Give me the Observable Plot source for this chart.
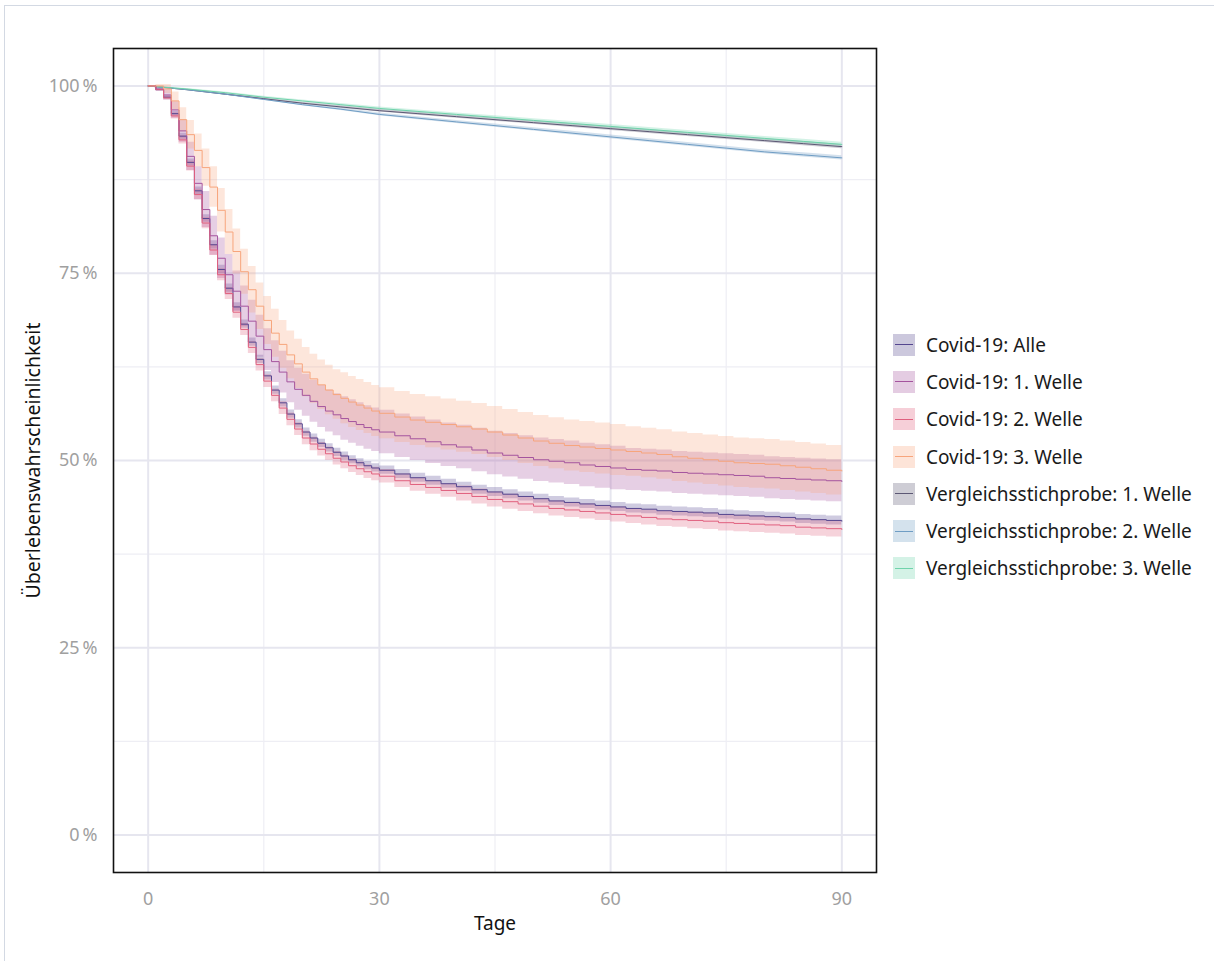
<!DOCTYPE html>
<html><head><meta charset="utf-8">
<script src="https://cdn.jsdelivr.net/npm/d3@7"></script>
<script src="https://cdn.jsdelivr.net/npm/@observablehq/plot@0.6"></script>
<style>
html,body{margin:0;padding:0;background:#fff;}
body{width:1214px;height:961px;position:relative;overflow:hidden;font-family:"Noto Sans",sans-serif;}
#frame{position:absolute;left:4px;top:5px;right:-2px;bottom:-2px;border-top:1.5px solid #d3d9e3;border-left:1.5px solid #d3d9e3;pointer-events:none;}
#chart{position:absolute;left:0;top:0;}
#legend{position:absolute;left:893px;top:326px;}
.row{display:flex;align-items:center;height:37.3px;}
.key{width:22px;height:22px;position:relative;margin-right:11px;}
.key i{position:absolute;left:2px;right:2px;top:10.5px;height:1px;}
.row span{font-size:19px;color:#1a1a1a;white-space:nowrap;}
</style></head><body>
<div id="chart"></div>
<div id="legend"></div>
<div id="frame"></div>
<script>
// ---- data ----
const seriesNames = ["Covid-19: Alle","Covid-19: 1. Welle","Covid-19: 2. Welle","Covid-19: 3. Welle",
  "Vergleichsstichprobe: 1. Welle","Vergleichsstichprobe: 2. Welle","Vergleichsstichprobe: 3. Welle"];
const seriesColors = ["#54468f","#a4549e","#e0607e","#f7a57c","#5c5874","#6f9dc4","#6fd3ab"];

const days = [0,1,2,3,4,5,6,7,8,9,10,11,12,13,14,15,16,17,18,19,20,21,22,23,24,25,26,27,28,29,30,
  32,34,36,38,40,42,44,46,48,50,52,54,56,58,60,62,64,66,68,70,72,74,76,78,80,82,84,86,88,90];

const alle = [100,99.5,98.5,96.3,93.3,89.8,86.0,82.3,78.8,75.5,73.0,70.5,68.2,65.8,63.5,61.3,59.4,57.7,56.2,54.9,53.8,53.0,52.3,51.7,51.1,50.6,50.1,49.7,49.3,49.0,48.7,
  48.2,47.7,47.3,46.9,46.5,46.1,45.8,45.5,45.2,44.9,44.6,44.4,44.2,44.0,43.8,43.6,43.5,43.3,43.2,43.1,43.0,42.8,42.7,42.6,42.5,42.4,42.2,42.1,42.0,41.9];
const alleHw = [0,0.1,0.2,0.3,0.4,0.45,0.5,0.5,0.55,0.55,0.55,0.55,0.55,0.55,0.55,0.55,0.55,0.55,0.55,0.55,0.55,0.55,0.55,0.55,0.55,0.55,0.55,0.55,0.55,0.55,0.55,
  0.6,0.6,0.6,0.6,0.6,0.6,0.6,0.6,0.6,0.6,0.6,0.6,0.6,0.6,0.6,0.6,0.6,0.6,0.6,0.6,0.6,0.6,0.6,0.6,0.6,0.6,0.6,0.6,0.6,0.6];

const welle1 = [100,99.6,98.8,96.8,94.0,90.6,87.0,83.5,80.0,77.0,74.8,72.6,70.6,68.6,66.6,64.8,63.2,61.8,60.5,59.5,58.7,57.9,57.2,56.6,56.1,55.6,55.2,54.8,54.4,54.1,53.8,
  53.3,52.9,52.5,52.1,51.8,51.4,51.0,50.7,50.4,50.1,49.9,49.7,49.4,49.2,49.0,48.8,48.7,48.6,48.4,48.3,48.2,48.1,48.0,47.9,47.7,47.6,47.5,47.4,47.3,47.2];
const welle1Hw = [0,0.3,0.7,1.1,1.5,1.9,2.2,2.4,2.6,2.7,2.7,2.7,2.7,2.8,2.8,2.8,2.8,2.8,2.8,2.8,2.8,2.8,2.8,2.8,2.8,2.9,2.9,2.9,2.9,2.9,2.9,
  2.9,2.9,2.9,2.9,2.9,2.9,2.9,2.9,2.9,2.9,2.9,2.9,2.9,2.9,2.9,2.8,2.8,2.8,2.8,2.8,2.8,2.8,2.8,2.8,2.8,2.8,2.8,2.8,2.8,2.8];

const welle2 = [100,99.5,98.4,96.0,92.8,89.3,85.5,81.7,78.1,74.8,72.3,69.8,67.5,65.1,62.8,60.6,58.7,57.0,55.5,54.2,53.0,52.2,51.5,50.9,50.3,49.8,49.3,48.9,48.5,48.2,47.9,
  47.3,46.8,46.4,46.0,45.6,45.2,44.8,44.5,44.2,43.9,43.6,43.4,43.2,43.0,42.8,42.6,42.4,42.2,42.1,42.0,41.9,41.7,41.6,41.5,41.4,41.3,41.1,41.0,40.9,40.8];
const welle2Hw = [0,0.1,0.25,0.4,0.55,0.65,0.7,0.75,0.75,0.8,0.8,0.8,0.8,0.8,0.85,0.85,0.85,0.85,0.85,0.85,0.9,0.9,0.9,0.9,0.9,0.9,0.9,0.9,0.9,0.9,0.9,
  0.9,0.9,0.9,0.9,1.0,1.0,1.0,1.0,1.0,1.0,1.0,1.0,1.0,1.0,1.0,1.0,1.0,1.0,1.0,1.1,1.1,1.1,1.1,1.1,1.1,1.1,1.1,1.1,1.1,1.1];

const welle3 = [100,100,99.6,98.0,95.5,93.5,91.4,89.1,86.5,83.4,80.5,77.9,75.2,72.8,70.6,68.7,67.0,65.5,64.1,62.9,61.8,60.9,60.1,59.4,58.8,58.3,57.8,57.4,57.0,56.6,56.3,
  55.8,55.4,55.1,54.8,54.5,54.2,53.8,53.4,53.0,52.6,52.3,52.0,51.8,51.6,51.4,51.2,51.0,50.8,50.5,50.3,50.1,49.9,49.7,49.6,49.5,49.3,49.1,48.9,48.7,48.6];
const welle3Hw = [0,0.2,0.6,1.2,1.6,1.9,2.2,2.5,2.7,2.9,3.0,3.0,3.0,3.1,3.1,3.2,3.2,3.2,3.2,3.3,3.3,3.3,3.3,3.3,3.3,3.4,3.4,3.4,3.4,3.4,3.4,
  3.4,3.4,3.4,3.4,3.4,3.4,3.4,3.4,3.4,3.4,3.4,3.4,3.4,3.4,3.4,3.3,3.3,3.3,3.3,3.3,3.3,3.3,3.3,3.3,3.3,3.3,3.3,3.3,3.3,3.3];

const vsDays = [0,5,10,15,20,25,30,35,40,45,50,55,60,65,70,75,80,85,90];
const vs1 = [100,99.5,98.9,98.3,97.7,97.2,96.7,96.3,95.9,95.5,95.1,94.7,94.3,93.9,93.5,93.1,92.7,92.3,91.9];
const vs2 = [100,99.5,98.9,98.2,97.5,96.9,96.2,95.7,95.2,94.7,94.2,93.7,93.2,92.7,92.2,91.7,91.2,90.8,90.4];
const vs3 = [100,99.6,99.1,98.5,98.0,97.5,97.0,96.6,96.2,95.8,95.4,95.0,94.6,94.2,93.8,93.4,93.0,92.6,92.2];
const vsHw = [0,0.05,0.1,0.12,0.14,0.16,0.18,0.2,0.2,0.22,0.22,0.24,0.24,0.25,0.25,0.26,0.26,0.27,0.27];

const xTicks = [0,30,60,90];
const xMinor = [15,45,75];
const yTicks = [0,25,50,75,100];
const yMinor = [12.5,37.5,62.5,87.5];

// ---- build rows ----
const covidSets = [[alle,alleHw],[welle1,welle1Hw],[welle2,welle2Hw],[welle3,welle3Hw]];
const covidRows = covidSets.flatMap(([est,hw],k) => days.map((d,i) => ({
  series: seriesNames[k], day: d, est: est[i], lo: est[i]-hw[i], hi: est[i]+hw[i]})));
const vsSets = [vs1,vs2,vs3];
const vsRows = vsSets.flatMap((est,k) => vsDays.map((d,i) => ({
  series: seriesNames[4+k], day: d, est: est[i], lo: est[i]-vsHw[i], hi: est[i]+vsHw[i]})));

const font = "'Noto Sans', 'Open Sans', sans-serif";
const chart = Plot.plot({
  width: 890, height: 961,
  marginLeft: 113, marginRight: 14, marginTop: 48, marginBottom: 89,
  x: {domain: [-4.5, 94.5]},
  y: {domain: [-5, 105]},
  color: {domain: seriesNames, range: seriesColors},
  style: {fontFamily: font, background: "transparent", overflow: "visible"},
  marks: [
    Plot.ruleY(yMinor, {stroke: "#eeeef4", strokeWidth: 1.2}),
    Plot.ruleX(xMinor, {stroke: "#eeeef4", strokeWidth: 1.2}),
    Plot.ruleY(yTicks, {stroke: "#e6e6ef", strokeWidth: 2}),
    Plot.ruleX(xTicks, {stroke: "#e6e6ef", strokeWidth: 2}),
    Plot.areaY(vsRows, {x: "day", y1: "lo", y2: "hi", z: "series", fill: "series", fillOpacity: 0.3}),
    Plot.areaY(covidRows, {x: "day", y1: "lo", y2: "hi", z: "series", fill: "series", fillOpacity: 0.28, curve: "step-after"}),
    Plot.line(vsRows, {x: "day", y: "est", z: "series", stroke: "series", strokeWidth: 1}),
    Plot.line(covidRows, {x: "day", y: "est", z: "series", stroke: "series", strokeWidth: 1, curve: "step-after"}),
    Plot.frame({stroke: "#111", strokeWidth: 1.6}),
    Plot.axisX({ticks: xTicks, tickSize: 0, tickPadding: 20, fill: "#a0a0a0", fontSize: 18, label: null}),
    Plot.axisY({ticks: yTicks, tickSize: 0, tickPadding: 16, fill: "#a0a0a0", fontSize: 18, label: null,
      tickFormat: d => d + "\u202f%"}),
    Plot.text(["Tage"], {frameAnchor: "bottom", dy: 57, fontSize: 19, fill: "#111"}),
    Plot.text(["Überlebenswahrscheinlichkeit"], {frameAnchor: "left", textAnchor: "middle", dx: -80, rotate: -90, fontSize: 19.5, fill: "#111"})
  ]
});
document.getElementById("chart").appendChild(chart);

// ---- legend ----
const legend = document.getElementById("legend");
seriesNames.forEach((name, i) => {
  const row = document.createElement("div");
  row.className = "row";
  const key = document.createElement("div");
  key.className = "key";
  key.style.background = d3.interpolateRgb("#ffffff", seriesColors[i])(0.3);
  const ln = document.createElement("i");
  ln.style.background = seriesColors[i];
  key.appendChild(ln);
  const label = document.createElement("span");
  label.textContent = name;
  row.appendChild(key);
  row.appendChild(label);
  legend.appendChild(row);
});
</script>
</body></html>
